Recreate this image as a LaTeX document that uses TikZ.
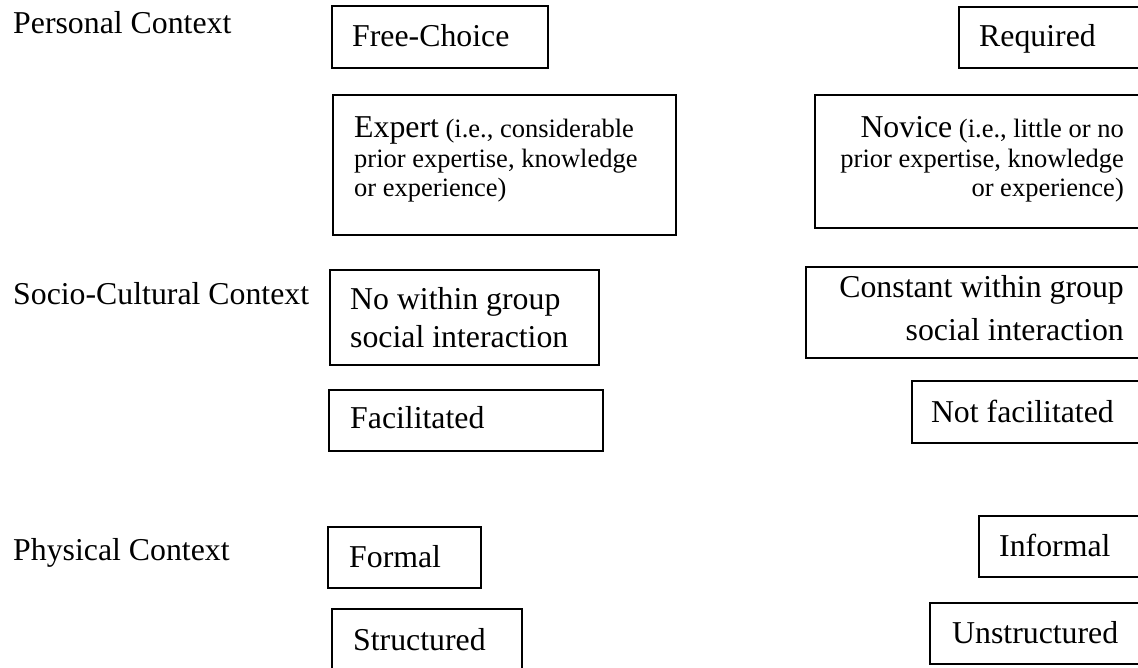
\documentclass[tikz,border=0pt]{standalone}
\usepackage{fontspec}
\setmainfont{Liberation Serif}
\usetikzlibrary{fit}
\newcommand{\bigtxt}{\fontsize{31.8}{38}\selectfont}
\newcommand{\smtxt}{\fontsize{26.5}{30}\selectfont}
\tikzset{
  box/.style={draw=black, line width=1.8pt, inner sep=0pt, fill=none},
  lbl/.style={inner sep=0pt, font=\bigtxt, text=black},
  sml/.style={inner sep=0pt, font=\smtxt, text=black}
}
\begin{document}
\begin{tikzpicture}[x=1pt, y=-1pt]
\useasboundingbox[fill=white] (0,0) rectangle (1138,668);
% left labels
\node[lbl, anchor=base west] (lp) at (13,34) {Personal Context};
\node[lbl, anchor=base west] (ls) at (13,305) {Socio-Cultural Context};
\node[lbl, anchor=base west] (lph) at (13,560) {Physical Context};
% boxes
\node[box, fit={(332,6) (548,68)}] (fc) {};
\node[box, fit={(333,95) (676,235)}] (ex) {};
\node[box, fit={(959,7) (1141,68)}] (rq) {};
\node[box, fit={(815,95) (1141,228)}] (nv) {};
\node[box, fit={(330,270) (599,365)}] (nw) {};
\node[box, fit={(329,390) (603,451)}] (fa) {};
\node[box, fit={(806,267) (1141,358)}] (cw) {};
\node[box, fit={(912,381) (1141,443)}] (nf) {};
\node[box, fit={(328,527) (481,588)}] (fo) {};
\node[box, fit={(332,609) (522,672)}] (st) {};
\node[box, fit={(979,516) (1141,577)}] (inf) {};
\node[box, fit={(930,603) (1141,664)}] (un) {};
% texts
\node[lbl, anchor=base west] (tfc) at (352,47) {Free-Choice};
\node[lbl, anchor=base west] (tex1) at (354,138) {Expert{\smtxt\ (i.e., considerable}};
\node[sml, anchor=base west] (tex2) at (354,168) {prior expertise, knowledge};
\node[sml, anchor=base west] (tex3) at (354,197) {or experience)};
\node[lbl, anchor=base east] (trq) at (1096,47) {Required};
\node[lbl, anchor=base east] (tnv1) at (1124,138) {Novice{\smtxt\ (i.e., little or no}};
\node[sml, anchor=base east] (tnv2) at (1124,168) {prior expertise, knowledge};
\node[sml, anchor=base east] (tnv3) at (1124,197) {or experience)};
\node[lbl, anchor=base west] (tnw1) at (350,310) {No within group};
\node[lbl, anchor=base west] (tnw2) at (350,348) {social interaction};
\node[lbl, anchor=base west] (tfa) at (350,428) {Facilitated};
\node[lbl, anchor=base east] (tcw1) at (1124,298) {Constant within group};
\node[lbl, anchor=base east] (tcw2) at (1124,341) {social interaction};
\node[lbl, anchor=base east] (tnf) at (1114,422) {Not facilitated};
\node[lbl, anchor=base west] (tfo) at (349,567) {Formal};
\node[lbl, anchor=base west] (tst) at (353,650) {Structured};
\node[lbl, anchor=base west] (tinf) at (999,556) {Informal};
\node[lbl, anchor=base west] (tun) at (952,643) {Unstructured};
\end{tikzpicture}
\end{document}
